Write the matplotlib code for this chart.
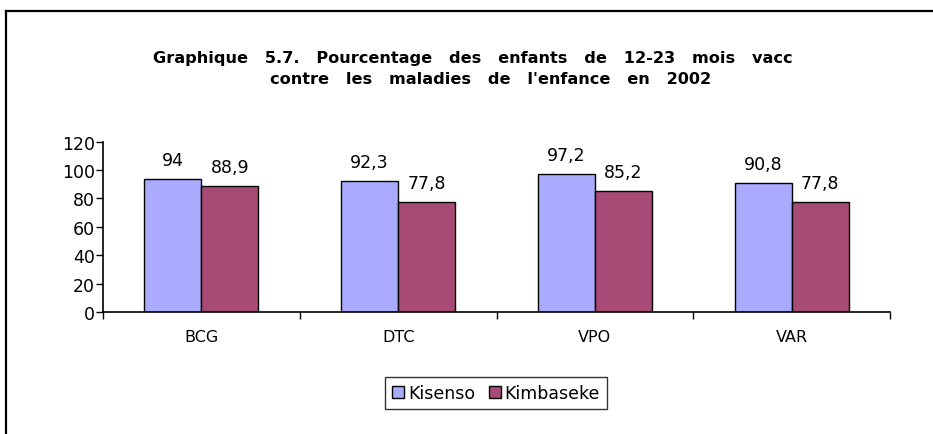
import matplotlib
matplotlib.use("Agg")
import matplotlib.pyplot as plt
import numpy as np
from matplotlib.patches import Rectangle
from matplotlib.lines import Line2D

categories = ["BCG", "DTC", "VPO", "VAR"]
kisenso = [94, 92.3, 97.2, 90.8]
kimbaseke = [88.9, 77.8, 85.2, 77.8]
series_names = ["Kisenso", "Kimbaseke"]
yticks = [0, 20, 40, 60, 80, 100, 120]

W, H = 933, 435
fig = plt.figure(figsize=(W / 100, H / 100), dpi=100)

# outer frame (top and left visible)
fig.add_artist(Line2D([6 / W, 6 / W], [0, 1 - 12 / H], transform=fig.transFigure, color="black", lw=1.6))
fig.add_artist(Line2D([6 / W, 1], [1 - 12 / H, 1 - 12 / H], transform=fig.transFigure, color="black", lw=1.6))

ax = fig.add_axes([103 / W, 1 - 313 / H, (890 - 103) / W, (313 - 142.6) / H])
x = np.arange(len(categories))
bw = 0.29
c1, c2 = "#AAAAFF", "#A84A76"
b1 = ax.bar(x - bw / 2, kisenso, bw, color=c1, edgecolor="black", lw=1.0)
b2 = ax.bar(x + bw / 2, kimbaseke, bw, color=c2, edgecolor="black", lw=1.0)

def fmt(v):
    return ("%g" % v).replace(".", ",")

for rects, vals in ((b1, kisenso), (b2, kimbaseke)):
    for r, v in zip(rects, vals):
        ax.annotate(fmt(v), (r.get_x() + r.get_width() / 2, v), xytext=(0, 7),
                    textcoords="offset points", ha="center", va="bottom",
                    fontsize=12.5, family="DejaVu Sans", annotation_clip=False)

ax.set_xlim(-0.5, len(categories) - 0.5)
ax.set_ylim(0, 120)
ax.set_yticks(yticks)
ax.set_yticklabels([str(t) for t in yticks], fontsize=12.5)
ax.set_xticks(x)
ax.set_xticklabels(categories, fontsize=11.5)
ax.set_xticks(np.arange(len(categories) + 1) - 0.5, minor=True)
ax.tick_params(axis="x", which="major", length=0, pad=12)
ax.tick_params(axis="x", which="minor", length=5, direction="out", width=1)
ax.tick_params(axis="y", length=5, direction="out", width=1, pad=1)
for s in ("top", "right"):
    ax.spines[s].set_visible(False)
ax.spines["left"].set_linewidth(1.2)
ax.spines["bottom"].set_linewidth(1.2)

fig.text(153 / W, 1 - 58 / H, "Graphique   5.7.   Pourcentage   des   enfants   de   12-23   mois   vacc",
         ha="left", va="center", fontsize=11.6, fontweight="bold", family="DejaVu Sans")
fig.text(491 / W, 1 - 80 / H, "contre   les   maladies   de   l'enfance   en   2002",
         ha="center", va="center", fontsize=11.6, fontweight="bold", family="DejaVu Sans")

handles = [Rectangle((0, 0), 1, 1, facecolor=c1, edgecolor="black"),
           Rectangle((0, 0), 1, 1, facecolor=c2, edgecolor="black")]
leg = fig.legend(handles, series_names, loc="center", bbox_to_anchor=(496 / W, 1 - 394 / H),
                 ncol=2, fontsize=12.5, frameon=True, fancybox=False, edgecolor="black",
                 handlelength=0.7, handleheight=0.7, handletextpad=0.2, columnspacing=0.8,
                 borderpad=0.4, borderaxespad=0)
leg.get_frame().set_linewidth(1.0)

fig.savefig("out.png", dpi=100)
